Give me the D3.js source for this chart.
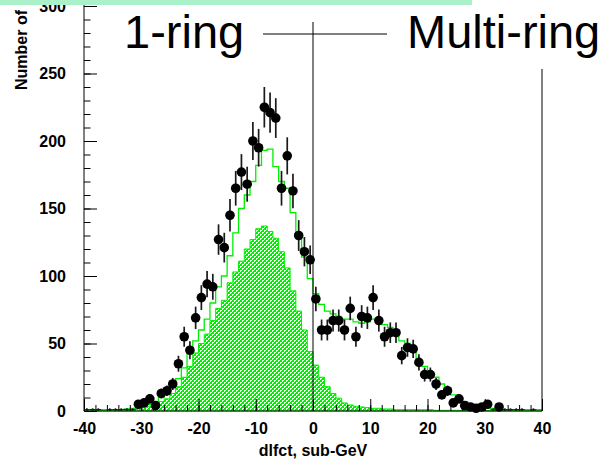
<!DOCTYPE html>
<html lang="en">
<head>
<meta charset="UTF-8">
<title>dlfct, sub-GeV</title>
<script src="https://d3js.org/d3.v7.min.js"></script>
<style>
  body { margin: 0; background: #fff; }
  svg { display: block; font-family: "Liberation Sans", Arial, sans-serif; }
  .tick text { font-weight: bold; fill: #000; }
  .tick line { stroke: #000; }
</style>
</head>
<body>
<div id="chart"></div>
<script>
// bins are 1 unit wide, lower edges from -40 to 39
const binLow = d3.range(-40, 40);

// total MC (open green histogram)
const mcTotal = [
  1, 1, 1, 1, 1, 1, 1,
  1.5, 2, 3, 4, 5, 7, 10, 13, 18, 24, 32, 45, 52, 60, 68, 80, 92, 100, 115, 132,
  150, 160, 170, 182, 193, 194, 181, 170, 165, 147, 128, 114, 98,
  87, 79, 74, 72, 70, 68, 68, 66, 65, 66, 68, 67, 64, 62, 56, 52, 50, 45, 38, 33,
  29, 25, 20, 16, 12, 9, 7, 5, 4, 3, 3, 2, 2, 1, 1, 1, 1, 1, 1, 1
];

// 1-ring MC component (hatched histogram)
const mcOneRing = [
  0.5, 0.5, 0.5, 0.5, 0.5, 0.5, 0.5,
  0.5, 1, 1.5, 2.5, 3.5, 5, 7, 9, 13, 18, 25, 33, 43, 50, 57, 67, 76, 82, 95, 103,
  111, 120, 127, 135, 137, 133, 128, 118, 106, 89, 74, 60, 44,
  34, 25, 18, 13, 9.5, 6, 4.5, 3.5, 3, 2.5, 2, 2, 1.5, 1.5, 1, 1, 1, 1, 1, 1,
  1, 0.5, 0.5, 0.5, 0.5, 0.5, 0.5, 0.5, 0.5, 0.5, 0.5, 0.5, 0.5, 0.5, 0.5, 0.5, 0.5, 0.5, 0.5, 0.5
];

// data counts, one per bin (drawn at bin centre)
const dataCounts = [
  1, 1, 1, 0, 1, 1, 1, 1, 1,
  5, 6, 9, 4, 13, 15, 20, 35, 55, 45, 69, 84, 94, 92, 127, 121, 145, 165, 177, 168,
  200, 195, 225, 221, 217, 165, 189, 163, 130, 118, 112,
  83, 60, 60, 67, 67, 60, 76, 55, 70, 69, 84, 67, 55, 58, 58, 41, 47, 46, 36, 27,
  27, 20, 12, 15, 6, 9, 4, 3, 2, 3, 5, 1, 3, 1, 1, 1, 1, 0, 1, 0
];

const xTicks = [-40, -30, -20, -10, 0, 10, 20, 30, 40];
const yTicks = [0, 50, 100, 150, 200, 250, 300];
const xTitle = "dlfct, sub-GeV";
const yTitle = "Number of events";
const leftLabel = "1-ring";
const rightLabel = "Multi-ring";

const width = 603, height = 464;
const green = "#00ee00";

const x = d3.scaleLinear().domain([-40, 40]).range([84, 542]);
const y = d3.scaleLinear().domain([0, 300]).range([411, 6]);

const svg = d3.select("#chart").append("svg")
    .attr("width", width)
    .attr("height", height);

svg.append("rect").attr("width", width).attr("height", height).attr("fill", "#fff");

// cross hatch for the 1-ring component, drawn pixel by pixel
const pat = svg.append("defs").append("pattern")
    .attr("id", "hatch")
    .attr("patternUnits", "userSpaceOnUse")
    .attr("width", 4).attr("height", 4);
const cells = [];
for (let i = 0; i < 4; i++) {
  for (let j = 0; j < 4; j++) {
    if ((i + j) % 4 === 0 || (i - j + 4) % 4 === 0 || (i + j) % 4 === 1) cells.push([i, j]);
  }
}
pat.selectAll("rect")
    .data(cells)
    .enter().append("rect")
    .attr("x", d => d[0]).attr("y", d => d[1])
    .attr("width", 1).attr("height", 1)
    .attr("fill", green)
    .attr("shape-rendering", "crispEdges");

function steps(values) {
  const pts = binLow.map((b, i) => [b, values[i]]);
  pts.push([40, values[values.length - 1]]);
  return pts;
}

// hatched histogram
svg.append("path")
    .datum(steps(mcOneRing))
    .attr("fill", "url(#hatch)")
    .attr("stroke", green)
    .attr("stroke-width", 1)
    .attr("d", d3.area()
        .x(d => x(d[0]))
        .y0(y(0))
        .y1(d => y(d[1]))
        .curve(d3.curveStepAfter));

// total MC outline
svg.append("path")
    .datum(steps(mcTotal))
    .attr("fill", "none")
    .attr("stroke", green)
    .attr("stroke-width", 1.3)
    .attr("d", d3.line()
        .x(d => x(d[0]))
        .y(d => y(d[1]))
        .curve(d3.curveStepAfter));

// axes, ticks pointing inward
svg.append("g")
    .attr("transform", `translate(0,${y(0)})`)
    .call(d3.axisBottom(x).tickValues(d3.range(-40, 41, 2)).tickSize(-6).tickSizeOuter(0).tickFormat(""))
    .call(g => g.select(".domain").remove());

svg.append("g")
    .attr("transform", `translate(0,${y(0)})`)
    .call(d3.axisBottom(x).tickValues(xTicks).tickSize(-12).tickSizeOuter(0).tickPadding(12).tickFormat(d => String(d)))
    .call(g => g.select(".domain").remove())
    .call(g => g.selectAll("text").style("font-size", "16px"));

svg.append("g")
    .attr("transform", `translate(${x(-40)},0)`)
    .call(d3.axisLeft(y).tickValues(d3.range(0, 301, 10)).tickSize(-6.5).tickSizeOuter(0).tickFormat(""))
    .call(g => g.select(".domain").remove());

svg.append("g")
    .attr("transform", `translate(${x(-40)},0)`)
    .call(d3.axisLeft(y).tickValues(yTicks).tickSize(-13).tickSizeOuter(0).tickPadding(18).tickFormat(d => String(d)))
    .call(g => g.select(".domain").remove())
    .call(g => g.selectAll("text").style("font-size", "16px"));

svg.append("line")
    .attr("x1", x(-40)).attr("x2", x(40))
    .attr("y1", y(0)).attr("y2", y(0))
    .attr("stroke", "#000");
svg.append("line")
    .attr("x1", x(-40)).attr("x2", x(-40))
    .attr("y1", y(0)).attr("y2", 0)
    .attr("stroke", "#000");

// ring boundary and frame edge
svg.append("line")
    .attr("x1", x(0)).attr("x2", x(0))
    .attr("y1", y(0)).attr("y2", 22)
    .attr("stroke", "#000");
svg.append("line")
    .attr("x1", x(40)).attr("x2", x(40))
    .attr("y1", y(0)).attr("y2", 69)
    .attr("stroke", "#000");
svg.append("line")
    .attr("x1", 263).attr("x2", 387)
    .attr("y1", 34).attr("y2", 34)
    .attr("stroke", "#000");

// data points with errors
const pts = binLow.map((b, i) => ({ c: b + 0.5, n: dataCounts[i] })).filter(d => d.n > 0);

const pg = svg.append("g");
pg.selectAll("line.ey")
    .data(pts)
    .enter().append("line")
    .attr("class", "ey")
    .attr("x1", d => x(d.c)).attr("x2", d => x(d.c))
    .attr("y1", d => y(Math.max(0, d.n - Math.sqrt(d.n))))
    .attr("y2", d => y(d.n + Math.sqrt(d.n)))
    .attr("stroke", "#1a1a1a")
    .attr("stroke-width", 1.7);
pg.selectAll("line.ex")
    .data(pts)
    .enter().append("line")
    .attr("class", "ex")
    .attr("x1", d => x(d.c - 0.5)).attr("x2", d => x(d.c + 0.5))
    .attr("y1", d => y(d.n)).attr("y2", d => y(d.n))
    .attr("stroke", "#1a1a1a")
    .attr("stroke-width", 1);
pg.selectAll("circle")
    .data(pts.filter(d => d.n >= 2))
    .enter().append("circle")
    .attr("cx", d => x(d.c))
    .attr("cy", d => y(d.n))
    .attr("r", 4.8)
    .attr("fill", "#000");

// titles
svg.append("text")
    .attr("x", 313).attr("y", 456)
    .attr("text-anchor", "middle")
    .style("font-size", "16px")
    .style("font-weight", "bold")
    .text(xTitle);

svg.append("text")
    .attr("transform", "translate(27,90) rotate(-90)")
    .attr("text-anchor", "start")
    .style("font-size", "16px")
    .style("font-weight", "bold")
    .text(yTitle);

svg.append("text")
    .attr("x", 124).attr("y", 48)
    .style("font-size", "47px")
    .text(leftLabel);

svg.append("text")
    .attr("x", 407).attr("y", 48)
    .style("font-size", "47px")
    .text(rightLabel);

// light band across the top
svg.append("rect")
    .attr("x", 0).attr("y", 0)
    .attr("width", 472).attr("height", 5)
    .attr("fill", "#aaf0c8");
</script>
</body>
</html>
